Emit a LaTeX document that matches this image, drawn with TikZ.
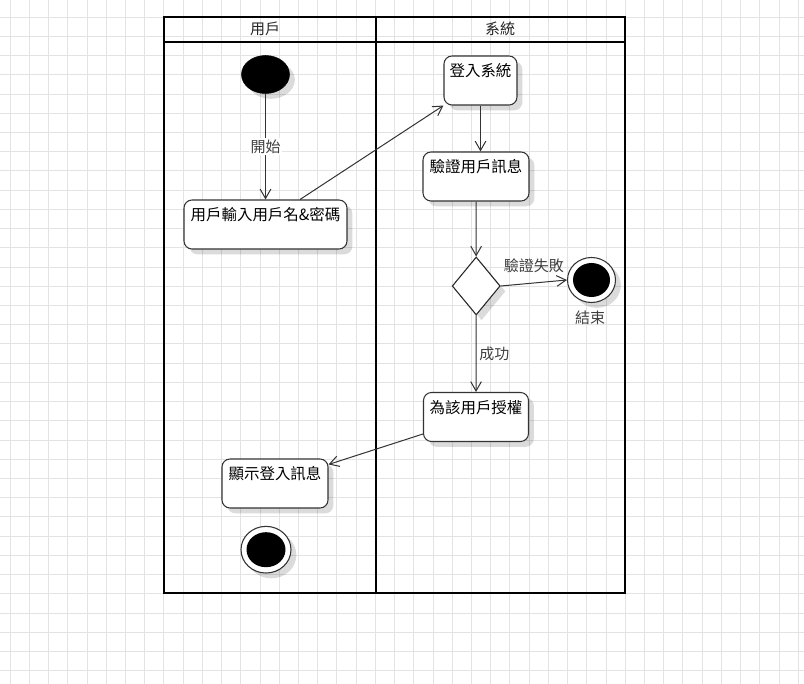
\documentclass[tikz,border=0pt]{standalone}
\usepackage{fontspec}
\newfontfamily\cjk{Noto Sans CJK TC}
\usepackage{tikz}
\usetikzlibrary{positioning,shapes.geometric,arrows.meta,shadows}
\tikzset{
  % --- sheet and swimlanes ---------------------------------------------------
  gridline/.style={draw=black!11,line width=0.75pt},
  lane/.style={draw=black,line width=1.5pt},
  lanehead/.style={font=\cjk\fontsize{11.25}{13}\selectfont,text=black!85,inner sep=1pt},
  % --- activity nodes --------------------------------------------------------
  softshadow/.style={drop shadow={shadow xshift=4pt,shadow yshift=-4pt,
                     fill=black,opacity=0.14}},
  act/.style={rectangle,rounded corners=6pt,draw=black!80,line width=0.8pt,
              fill=white,softshadow,inner xsep=0pt,inner ysep=0pt,
              text height=15.5pt,text depth=21.25pt,
              font=\cjk\fontsize{11.6}{13}\selectfont},
  startdot/.style={ellipse,fill=black,draw=black,inner sep=0pt,
                   minimum width=36pt,minimum height=28.5pt,softshadow},
  finalout/.style={ellipse,fill=white,draw=black!80,line width=0.8pt,
                   inner sep=0pt,softshadow},
  finalin/.style={ellipse,fill=black,inner sep=0pt},
  choice/.style={diamond,draw=black!85,line width=0.8pt,fill=white,inner sep=0pt,
                 minimum width=36pt,minimum height=43.5pt,softshadow},
  % --- control flows ---------------------------------------------------------
  flow/.style={-{Straight Barb[length=7pt,width=8pt]},draw=black!80,line width=0.75pt},
  flab/.style={font=\cjk\fontsize{11.25}{13}\selectfont,text=black!75,inner sep=1pt},
}
\begin{document}
\begin{tikzpicture}[x=0.75pt,y=-0.75pt]
  \fill[white] (0,0) rectangle (804,684);
  \useasboundingbox (0,0) rectangle (804,684);
  \foreach \i in {0,...,41} \draw[gridline] ({10.2+19.22*\i},0) -- ({10.2+19.22*\i},684);
  \foreach \j in {0,...,34} \draw[gridline] (0,{17.2+19.22*\j}) -- (804,{17.2+19.22*\j});

  % swimlanes
  \draw[lane] (164,17) rectangle (625,593);
  \draw[lane] (164,42) -- (625,42);
  \draw[lane] (376,17) -- (376,593);
  \node[lanehead] (hUser) at (265,29) {用戶};
  \node[lanehead] (hSys)  at (500,29) {系統};

  % user lane
  \node[startdot] (start) at (265.5,74.5) {};
  \node[act,minimum width=122.25pt] (input) at (265.5,224.5) {用戶輸入用戶名\&密碼};
  \node[act,minimum width=79.5pt]   (show)  at (275,483.5)   {顯示登入訊息};
  \node[finalout,minimum width=37.5pt,minimum height=35pt] (stop) at (266,549.7) {};
  \node[finalin,minimum width=29.25pt,minimum height=26.25pt] (stopin) at (266,549.7) {};

  % system lane
  \node[act,minimum width=54.75pt] (login) at (480.5,80.5) {登入系統};
  \node[act,minimum width=79.5pt]  (check) at (476,176.5)  {驗證用戶訊息};
  \node[choice] (ok) at (476.2,286) {};
  \node[finalout,minimum width=36pt,minimum height=33.75pt] (fail) at (591.5,280) {};
  \node[finalin,minimum width=27.75pt,minimum height=25.5pt] (failin) at (591.5,280) {};
  \node[flab] (failtxt) at (590,318) {結束};
  \node[act,minimum width=78.75pt] (grant) at (476,417) {為該用戶授權};

  % flows
  \draw[flow] (start) -- node[flab,fill=white] {開始} (input);
  \draw[flow] ([xshift=25.9pt]input.north) -- (login.south west);
  \draw[flow] (login.south) -- (login.south |- check.north);
  \draw[flow] (check) -- (ok);
  \draw[flow] (ok.east) -- node[flab,midway,above=6pt] {驗證失敗} (fail.west);
  \draw[flow] (ok) -- node[flab,midway,right=1pt] {成功} (grant);
  \draw[flow] ([yshift=-12.75pt]grant.west) -- ([yshift=-4.5pt]show.north east);
\end{tikzpicture}
\end{document}
